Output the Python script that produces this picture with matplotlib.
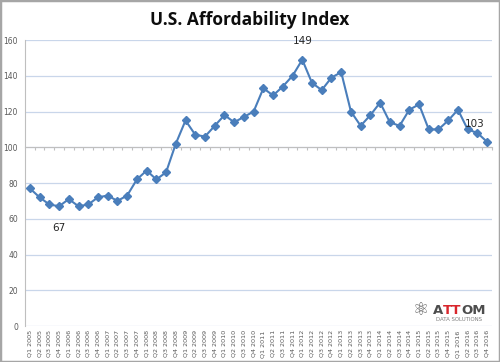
import matplotlib
matplotlib.use('Agg')
import matplotlib.pyplot as plt
from matplotlib.patches import Rectangle

# Quarterly affordability index, Q1 2005 - Q4 2016
quarters = [f'Q{q} {y}' for y in range(2005, 2017) for q in range(1, 5)]
index_values = [77, 72, 68, 67, 71, 67, 68, 72, 73, 70, 73, 82,
                87, 82, 86, 102, 115, 107, 106, 112, 118, 114, 117, 120,
                133, 129, 134, 140, 149, 136, 132, 139, 142, 120, 112, 118,
                125, 114, 112, 121, 124, 110, 110, 115, 121, 110, 108, 103]
labelled = {3: 67, 28: 149, 47: 103}
y_ticks = list(range(0, 161, 20))

line_col = '#4a7ebb'
grid_col = '#c9d6ea'
text_col = '#595959'

fig = plt.figure(figsize=(5, 3.62), dpi=100)
fig.patches.append(Rectangle((0, 0), 1, 1, transform=fig.transFigure,
                             fill=False, edgecolor='#a6a6a6', linewidth=2.5))

ax = fig.add_axes([0.05, 0.0994, 0.934, 0.79])
x = list(range(len(quarters)))
ax.plot(x, index_values, color=line_col, linewidth=1.5, marker='D',
        markersize=3.6, markerfacecolor=line_col, markeredgecolor=line_col,
        zorder=3)

for i, v in labelled.items():
    if i == 3:
        ax.annotate(str(v), (i, v), xytext=(0, -12), textcoords='offset points',
                    ha='center', va='top', fontsize=7.5, color='#262626')
    elif i == 47:
        ax.annotate(str(v), (i, v), xytext=(-9, 9), textcoords='offset points',
                    ha='center', va='bottom', fontsize=7.5, color='#262626')
    else:
        ax.annotate(str(v), (i, v), xytext=(0, 10), textcoords='offset points',
                    ha='center', va='bottom', fontsize=7.5, color='#262626')

ax.set_xlim(-0.5, len(quarters) - 0.5)
ax.set_ylim(0, 160)
ax.set_yticks(y_ticks)
ax.set_yticklabels([str(t) for t in y_ticks], fontsize=5.5, color=text_col)
ax.tick_params(axis='y', length=0, pad=5)
ax.grid(axis='y', color=grid_col, linewidth=0.9)
ax.set_axisbelow(True)

for s in ['top', 'right']:
    ax.spines[s].set_visible(False)
ax.spines['left'].set_color('#bfbfbf')
ax.spines['left'].set_linewidth(0.8)

# horizontal axis crosses at 100, labels stay at the bottom
ax.spines['bottom'].set_position(('data', 100))
ax.spines['bottom'].set_color('#bfbfbf')
ax.spines['bottom'].set_linewidth(0.8)
ax.set_xticks([i + 0.5 for i in range(len(quarters))])
ax.set_xticklabels([])
ax.tick_params(axis='x', direction='out', length=2.5, color='#bfbfbf', width=0.8)

sec = ax.secondary_xaxis('bottom')
sec.set_xticks(x)
sec.set_xticklabels(quarters, rotation=90, fontsize=4.6, color=text_col)
sec.tick_params(length=0, pad=3)
sec.spines['bottom'].set_visible(False)

fig.text(0.5, 0.945, 'U.S. Affordability Index', ha='center', va='center',
         fontsize=12.5, fontweight='bold', color='#0d0d0d', family='Open Sans')

# ATTOM logo
logo_y = 0.1326
fig.text(0.866, logo_y, 'A', fontsize=9.5, fontweight='bold', color='#4d4d4d',
         ha='left', va='baseline', family='DejaVu Sans')
fig.text(0.886, logo_y, 'TT', fontsize=9.5, fontweight='bold', color='#d9262c',
         ha='left', va='baseline', family='DejaVu Sans')
fig.text(0.922, logo_y, 'OM', fontsize=9.5, fontweight='bold', color='#4d4d4d',
         ha='left', va='baseline', family='DejaVu Sans')
fig.text(0.872, 0.112, 'DATA SOLUTIONS', fontsize=3.9, color='#7f7f7f',
         ha='left', va='baseline')
fig.text(0.842, 0.143, '\u269b', fontsize=13, color='#5a5a5a',
         ha='center', va='center', family='DejaVu Sans')

fig.savefig('out.png', dpi=100)
